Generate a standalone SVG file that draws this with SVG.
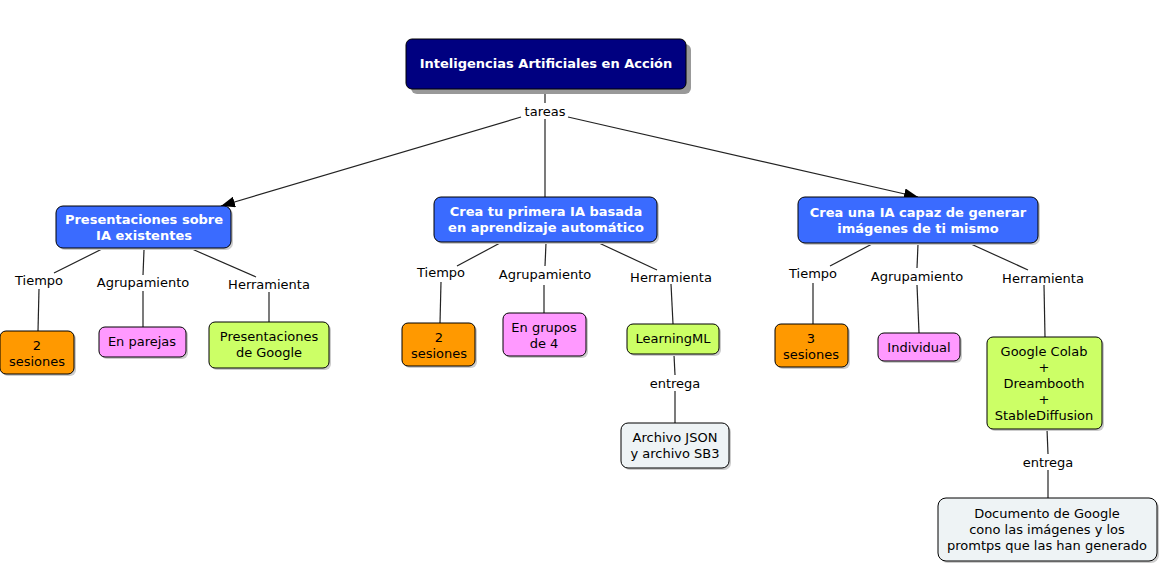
<svg xmlns="http://www.w3.org/2000/svg" width="1159" height="571" viewBox="0 0 1159 571">
<style>
text{font-family:"DejaVu Sans",Verdana,sans-serif;font-size:13px;fill:#000;text-anchor:middle}
.b{font-weight:bold;fill:#fff}
.con line{stroke:#222;stroke-width:1.2}
.root{fill:#000080;stroke:#000;stroke-width:1}
.sh{fill:#999}
.sh2{fill:#ccc}
.main{fill:#3a6bff;stroke:#000;stroke-width:1}
.or{fill:#ff9900;stroke:#000;stroke-width:1}
.pk{fill:#ff99ff;stroke:#000;stroke-width:1}
.gr{fill:#ccff66;stroke:#000;stroke-width:1}
.gy{fill:#eef3f5;stroke:#000;stroke-width:1}
</style>
<defs>
<marker id="ar" viewBox="0 0 14 11" refX="14" refY="5.5" markerWidth="14" markerHeight="11" markerUnits="userSpaceOnUse" orient="auto">
<path d="M0,0 L14,5.5 L0,11 z" fill="#000"/>
</marker>
</defs>
<g id="connectors" class="con">
<line x1="545" y1="89" x2="545" y2="103"/>
<line x1="521" y1="117" x2="221" y2="206" marker-end="url(#ar)"/>
<line x1="545" y1="119" x2="545" y2="197"/>
<line x1="568" y1="117" x2="918" y2="197" marker-end="url(#ar)"/>
<line x1="102" y1="249" x2="54" y2="273"/>
<line x1="39" y1="289" x2="38" y2="331"/>
<line x1="144" y1="250" x2="143" y2="275"/>
<line x1="143" y1="291" x2="143" y2="327"/>
<line x1="192" y1="249" x2="256" y2="277"/>
<line x1="269" y1="292" x2="269" y2="322"/>
<line x1="500" y1="243" x2="457" y2="266"/>
<line x1="441" y1="282" x2="440" y2="323"/>
<line x1="546" y1="243" x2="545" y2="266"/>
<line x1="544" y1="285" x2="544" y2="313"/>
<line x1="599" y1="243" x2="657" y2="270"/>
<line x1="671" y1="284" x2="673" y2="324"/>
<line x1="674" y1="355" x2="675" y2="375"/>
<line x1="675" y1="391" x2="675" y2="423"/>
<line x1="872" y1="244" x2="830" y2="266"/>
<line x1="813" y1="283" x2="813" y2="324"/>
<line x1="918" y1="244" x2="917" y2="268"/>
<line x1="917" y1="285" x2="919" y2="333"/>
<line x1="971" y1="244" x2="1028" y2="270"/>
<line x1="1044" y1="285" x2="1045" y2="337"/>
<line x1="1047" y1="429" x2="1048" y2="454"/>
<line x1="1048" y1="470" x2="1048" y2="498"/>
</g>
<g id="labels">
<text x="545" y="116">tareas</text>
<text x="39" y="285">Tiempo</text>
<text x="143" y="287">Agrupamiento</text>
<text x="269" y="289">Herramienta</text>
<text x="441" y="277">Tiempo</text>
<text x="545" y="279">Agrupamiento</text>
<text x="671" y="282">Herramienta</text>
<text x="675" y="388">entrega</text>
<text x="813" y="278">Tiempo</text>
<text x="917" y="281">Agrupamiento</text>
<text x="1043" y="283">Herramienta</text>
<text x="1048" y="467">entrega</text>
</g>
<g id="root">
<rect class="sh" x="411" y="44" width="280" height="50" rx="6"/>
<rect class="root" x="406" y="39" width="280" height="50" rx="6"/>
<text class="b" x="546" y="68">Inteligencias Artificiales en Acción</text>
</g>
<g id="n1">
<rect class="sh2" x="58" y="208" width="175" height="42" rx="7"/>
<rect class="main" x="56" y="206" width="175" height="42" rx="7"/>
<text class="b" x="144" y="224">Presentaciones sobre</text>
<text class="b" x="144" y="240">IA existentes</text>
</g>
<g id="n2">
<rect class="sh2" x="436" y="199" width="223" height="45" rx="7"/>
<rect class="main" x="434" y="197" width="223" height="45" rx="7"/>
<text class="b" x="546" y="216">Crea tu primera IA basada</text>
<text class="b" x="546" y="232">en aprendizaje automático</text>
</g>
<g id="n3">
<rect class="sh2" x="800" y="199" width="240" height="46" rx="7"/>
<rect class="main" x="798" y="197" width="240" height="46" rx="7"/>
<text class="b" x="918" y="217">Crea una IA capaz de generar</text>
<text class="b" x="918" y="233">imágenes de ti mismo</text>
</g>
<g id="t1">
<rect class="sh2" x="2" y="333" width="74" height="43" rx="6"/>
<rect class="or" x="0" y="331" width="74" height="43" rx="6"/>
<text x="37" y="350">2</text>
<text x="37" y="366">sesiones</text>
</g>
<g id="a1">
<rect class="sh2" x="101" y="329" width="87" height="30" rx="6"/>
<rect class="pk" x="99" y="327" width="87" height="30" rx="6"/>
<text x="142" y="346">En parejas</text>
</g>
<g id="h1">
<rect class="sh2" x="211" y="324" width="120" height="46" rx="6"/>
<rect class="gr" x="209" y="322" width="120" height="46" rx="6"/>
<text x="269" y="341">Presentaciones</text>
<text x="269" y="357">de Google</text>
</g>
<g id="t2">
<rect class="sh2" x="404" y="325" width="73" height="43" rx="6"/>
<rect class="or" x="402" y="323" width="73" height="43" rx="6"/>
<text x="439" y="342">2</text>
<text x="439" y="358">sesiones</text>
</g>
<g id="a2">
<rect class="sh2" x="505" y="315" width="83" height="43" rx="6"/>
<rect class="pk" x="503" y="313" width="83" height="43" rx="6"/>
<text x="544" y="332">En grupos</text>
<text x="544" y="348">de 4</text>
</g>
<g id="h2">
<rect class="sh2" x="629" y="326" width="92" height="30" rx="6"/>
<rect class="gr" x="627" y="324" width="92" height="30" rx="6"/>
<text x="673" y="343">LearningML</text>
</g>
<g id="e2">
<rect class="sh2" x="623" y="425" width="108" height="45" rx="7"/>
<rect class="gy" x="621" y="423" width="108" height="45" rx="7"/>
<text x="675" y="442">Archivo JSON</text>
<text x="675" y="458">y archivo SB3</text>
</g>
<g id="t3">
<rect class="sh2" x="777" y="326" width="73" height="43" rx="6"/>
<rect class="or" x="775" y="324" width="73" height="43" rx="6"/>
<text x="811" y="343">3</text>
<text x="811" y="359">sesiones</text>
</g>
<g id="a3">
<rect class="sh2" x="880" y="335" width="82" height="28" rx="6"/>
<rect class="pk" x="878" y="333" width="82" height="28" rx="6"/>
<text x="919" y="352">Individual</text>
</g>
<g id="h3">
<rect class="sh2" x="989" y="339" width="115" height="92" rx="6"/>
<rect class="gr" x="987" y="337" width="115" height="92" rx="6"/>
<text x="1044" y="356">Google Colab</text>
<text x="1044" y="372">+</text>
<text x="1044" y="388">Dreambooth</text>
<text x="1044" y="404">+</text>
<text x="1044" y="420">StableDiffusion</text>
</g>
<g id="e3">
<rect class="sh2" x="940" y="500" width="219" height="63" rx="8"/>
<rect class="gy" x="938" y="498" width="219" height="63" rx="8"/>
<text x="1047" y="518">Documento de Google</text>
<text x="1047" y="534">cono las imágenes y los</text>
<text x="1047" y="550">promtps que las han generado</text>
</g>
</svg>
